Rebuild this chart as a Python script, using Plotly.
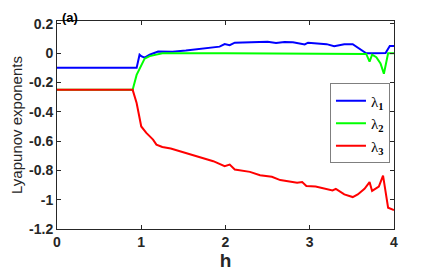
import plotly.graph_objects as go

# h values and Lyapunov exponents
h1 = [0, 0.5, 0.93, 0.945, 0.98, 1.0, 1.04, 1.1, 1.2, 1.37, 1.53, 1.69, 1.85, 1.93, 1.99, 2.05, 2.11, 2.2, 2.38, 2.5, 2.6, 2.7, 2.8, 2.9, 2.94, 2.98, 3.1, 3.2, 3.29, 3.35, 3.41, 3.51, 3.58, 3.67, 3.75, 3.85, 3.9, 3.95, 4.0]
l1 = [-0.10, -0.10, -0.10, -0.10, -0.01, -0.02, -0.03, -0.01, 0.011, 0.01, 0.018, 0.027, 0.04, 0.045, 0.062, 0.055, 0.072, 0.074, 0.08, 0.078, 0.07, 0.077, 0.075, 0.065, 0.06, 0.072, 0.065, 0.062, 0.048, 0.055, 0.061, 0.061, 0.035, 0.0, 0.0, 0.0, 0.002, 0.05, 0.05]

h2 = [0, 0.5, 0.898, 0.945, 0.985, 1.04, 1.1, 1.18, 1.25, 2.0, 3.0, 3.6, 3.67, 3.71, 3.74, 3.79, 3.84, 3.88, 3.93, 4.0]
l2 = [-0.25, -0.25, -0.25, -0.148, -0.10, -0.037, -0.02, -0.007, 0.0, 0.0, 0.0, 0.0, -0.005, -0.057, -0.01, -0.027, -0.07, -0.14, 0.0, 0.0]

h3 = [0, 0.5, 0.898, 0.945, 1.0, 1.06, 1.14, 1.18, 1.25, 1.35, 1.41, 1.53, 1.65, 1.75, 1.855, 1.99, 2.05, 2.11, 2.2, 2.29, 2.41, 2.55, 2.65, 2.77, 2.85, 2.91, 2.96, 3.07, 3.2, 3.27, 3.31, 3.41, 3.51, 3.57, 3.65, 3.71, 3.74, 3.82, 3.87, 3.93, 4.0]
l3 = [-0.25, -0.25, -0.25, -0.34, -0.50, -0.544, -0.59, -0.624, -0.64, -0.65, -0.66, -0.68, -0.70, -0.715, -0.737, -0.771, -0.76, -0.794, -0.80, -0.81, -0.833, -0.844, -0.866, -0.88, -0.885, -0.88, -0.907, -0.91, -0.93, -0.937, -0.926, -0.964, -0.982, -0.964, -0.926, -0.88, -0.94, -0.91, -0.835, -1.055, -1.07]

x_ticks = [0, 1, 2, 3, 4]
y_ticks = [0.2, 0, -0.2, -0.4, -0.6, -0.8, -1, -1.2]
y_tick_text = ["0.2", "0", "-0.2", "-0.4", "-0.6", "-0.8", "-1", "-1.2"]

fig = go.Figure()
fig.add_trace(go.Scatter(x=h1, y=l1, mode="lines", line=dict(color="#0000ff", width=2),
                         name="λ<sub><b>1</b></sub>"))
fig.add_trace(go.Scatter(x=h2, y=l2, mode="lines", line=dict(color="#00ff00", width=2),
                         name="λ<sub><b>2</b></sub>"))
fig.add_trace(go.Scatter(x=h3, y=l3, mode="lines", line=dict(color="#ff0000", width=2),
                         name="λ<sub><b>3</b></sub>"))

axis_common = dict(showline=True, linecolor="#262626", linewidth=1, mirror="ticks",
                   ticks="inside", ticklen=4, tickcolor="#262626", showgrid=False,
                   zeroline=False, automargin=False,
                   tickfont=dict(family="Liberation Sans, Arial", size=14, color="#262626"))

fig.update_xaxes(range=[0, 4], tickvals=x_ticks, ticktext=["<b>%d</b>" % v for v in x_ticks],
                 title=dict(text="<b>h</b>", font=dict(family="Liberation Sans, Arial", size=19, color="#262626"), standoff=2),
                 **axis_common)
fig.update_yaxes(range=[-1.2, 0.22], tickvals=y_ticks, ticktext=["<b>%s</b>" % t for t in y_tick_text],
                 title=dict(text="Lyapunov exponents", font=dict(family="Liberation Sans, Arial", size=15, color="#262626"), standoff=2),
                 **axis_common)

fig.add_annotation(text="<b>(a)</b>", xref="paper", yref="paper", x=0.009, y=1.0625,
                   xanchor="left", yanchor="top", showarrow=False,
                   font=dict(family="Liberation Sans, Arial", size=13, color="#000000"))

fig.update_layout(
    width=428, height=265,
    margin=dict(l=49, r=42, t=13, b=44),
    paper_bgcolor="white", plot_bgcolor="white",
    showlegend=True,
    legend=dict(x=0.81, y=0.70, xanchor="left", yanchor="top",
                bgcolor="white", bordercolor="#7f7f7f", borderwidth=1,
                font=dict(family="Liberation Serif, Times New Roman", size=15, color="#000000"),
                itemwidth=30, tracegroupgap=0),
)

fig.write_html("out.html")
